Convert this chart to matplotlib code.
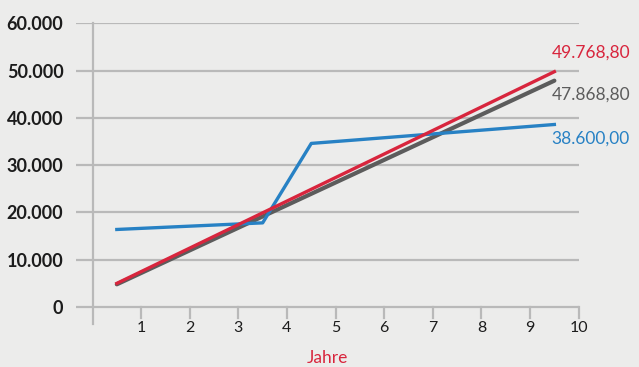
import matplotlib
matplotlib.use("Agg")
import matplotlib.pyplot as plt

# Yearly values (year 1..10), plotted at the middle of each year
years = [1, 2, 3, 4, 5, 6, 7, 8, 9, 10]
blue_vals = [16400, 16870, 17330, 17800, 34600, 35400, 36200, 37000, 37800, 38600]
red_vals = [5000, 9974, 14949, 19923, 24897, 29872, 34846, 39820, 44795, 49768.80]
gray_vals = [4800, 9585, 14371, 19156, 23942, 28727, 33513, 38298, 43083, 47868.80]
end_labels = ["38.600,00", "49.768,80", "47.868,80"]
y_ticks = [0, 10000, 20000, 30000, 40000, 50000, 60000]
y_tick_labels = ["0", "10.000", "20.000", "30.000", "40.000", "50.000", "60.000"]
x_ticks = [1, 2, 3, 4, 5, 6, 7, 8, 9, 10]
x_label = "Jahre"

BG = "#ececeb"
GRID = "#b9b9b9"
BLUE = "#2781c4"
RED = "#d8253d"
GRAY = "#5c5c5c"
TXT = "#1c1c1c"

plt.rcParams["font.family"] = ["Lato", "DejaVu Sans"]

fig = plt.figure(figsize=(6.39, 3.67), dpi=100, facecolor=BG)
ax = fig.add_axes([0.1189, 0.1338, 0.7867, 0.8027], facecolor=BG)

xs = [y - 0.5 for y in years]
ax.set_xlim(-0.34, 10)
ax.set_ylim(-2300, 60000)

for v in y_ticks:
    ax.axhline(v, color=GRID, lw=1.6, zorder=1)
# vertical axis line, running a little below the zero line
ax.plot([0, 0], [-3600, 60000], color=GRID, lw=1.6, zorder=1, clip_on=False)
# x tick marks hanging from the zero line
for t in x_ticks:
    ax.plot([t, t], [0, -2300], color=GRID, lw=1.6, zorder=1, clip_on=False)

ax.plot(xs, gray_vals, color=GRAY, lw=3.0, solid_capstyle="round", zorder=3)
ax.plot(xs, blue_vals, color=BLUE, lw=2.4, zorder=4)
ax.plot(xs, red_vals, color=RED, lw=2.4, zorder=5)

for s in ax.spines.values():
    s.set_visible(False)

ax.set_yticks(y_ticks)
ax.set_yticklabels(y_tick_labels, fontsize=13, fontweight="bold", color=TXT)
ax.tick_params(axis="y", length=0, pad=9)

ax.set_xticks(x_ticks)
ax.set_xticklabels([str(t) for t in x_ticks], fontsize=11.5, color=TXT)
ax.tick_params(axis="x", length=0, pad=2)

ax.set_xlabel(x_label, color=RED, fontsize=12.5, labelpad=11)

# Value labels at the line ends
ax.annotate(end_labels[1], (xs[-1], red_vals[-1]), xytext=(-2, 14),
            textcoords="offset points", color=RED, fontsize=12.5, va="center", ha="left")
ax.annotate(end_labels[2], (xs[-1], gray_vals[-1]), xytext=(-2, -10),
            textcoords="offset points", color=GRAY, fontsize=12.5, va="center", ha="left")
ax.annotate(end_labels[0], (xs[-1], blue_vals[-1]), xytext=(-2, -10),
            textcoords="offset points", color=BLUE, fontsize=12.5, va="center", ha="left")

fig.savefig("out.png", dpi=100, facecolor=BG)
